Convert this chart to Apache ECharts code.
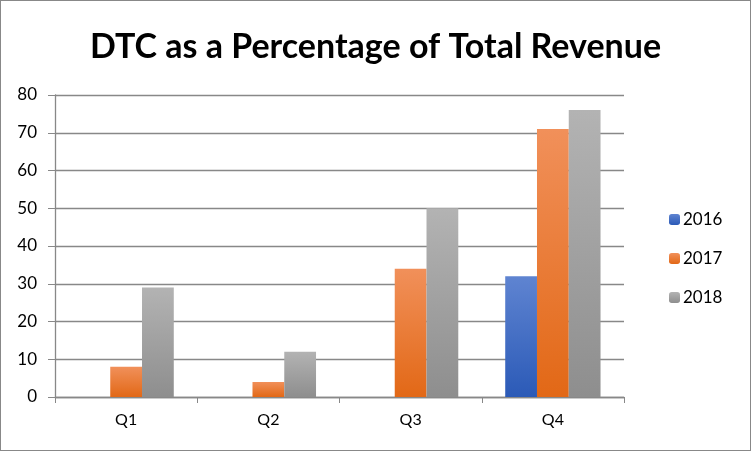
<!DOCTYPE html>
<html><head><meta charset="utf-8">
<script src="https://cdn.jsdelivr.net/npm/echarts@6/dist/echarts.min.js"></script>
<style>html,body{margin:0;padding:0;background:#fff}#c{width:751px;height:451px;box-sizing:border-box;border:1px solid #888}</style>
</head><body><div id="c"></div>
<script>
const categories = ['Q1','Q2','Q3','Q4'];
const seriesNames = ['2016','2017','2018'];
const v2016 = [0, 0, 0, 32];
const v2017 = [8, 4, 34, 71];
const v2018 = [29, 12, 50, 76];
const yTicks = {min: 0, max: 80, interval: 10};

function grad(top, bottom){
  return new echarts.graphic.LinearGradient(0,0,0,1,[{offset:0,color:top},{offset:1,color:bottom}]);
}
const colors = [grad('#5f84d1','#2b5ab7'), grad('#f1905a','#e26816'), grad('#b3b3b3','#8e8e8e')];
const data = [v2016, v2017, v2018];
const font = 'Lato, "Open Sans", "Liberation Sans", sans-serif';

const chart = echarts.init(document.getElementById('c'), null, {renderer:'canvas'});
chart.setOption({
  animation:false,
  title:{text:'DTC as a Percentage of Total Revenue', left:'center', top:24,
    textStyle:{fontFamily:font, fontWeight:'bold', fontSize:34, color:'#000'}},
  legend:{orient:'vertical', left:663, top:205, itemWidth:11, itemHeight:11, itemGap:22,
    textStyle:{fontFamily:font, fontSize:17, color:'#000', padding:[0,0,0,-2]},
    data:seriesNames},
  grid:{left:54, right:126, top:94, bottom:53, containLabel:false},
  xAxis:{type:'category', data:categories,
    axisLine:{lineStyle:{color:'#888', width:1.3}},
    axisTick:{show:true, length:6, lineStyle:{color:'#888'}},
    axisLabel:{fontFamily:font, fontSize:16, color:'#000', margin:15}},
  yAxis:{type:'value', min:yTicks.min, max:yTicks.max, interval:yTicks.interval,
    axisLine:{show:true, lineStyle:{color:'#888', width:1.3}},
    axisTick:{show:true, length:7, lineStyle:{color:'#888'}},
    splitLine:{lineStyle:{color:'#888', width:1.3}},
    axisLabel:{fontFamily:font, fontSize:17, color:'#000', margin:18}},
  series: seriesNames.map((n,i)=>({
    name:n, type:'bar', data:data[i], barGap:'0%', barCategoryGap:'33%',
    itemStyle:{color:colors[i]}
  }))
});
</script></body></html>
